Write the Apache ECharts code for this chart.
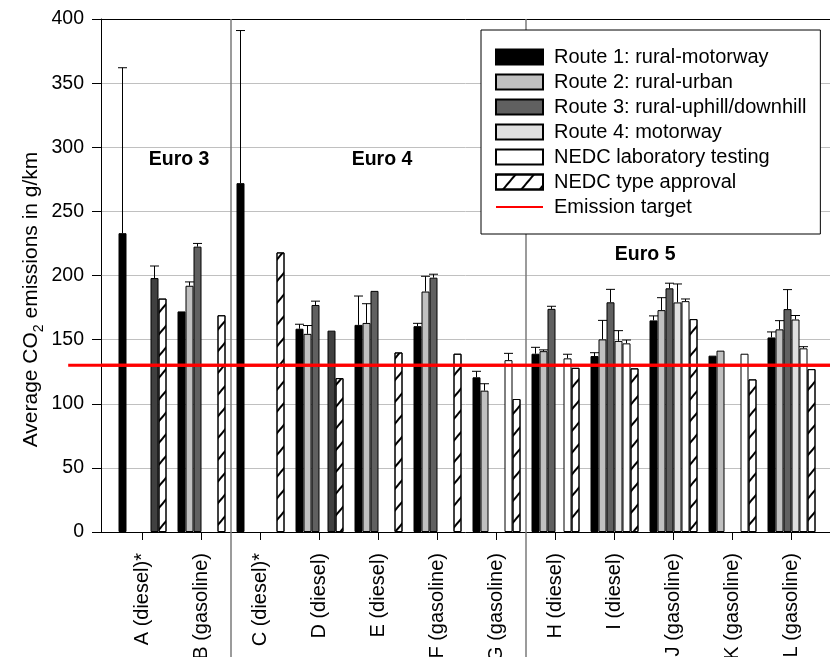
<!DOCTYPE html>
<html>
<head>
<meta charset="utf-8">
<script src="https://cdn.jsdelivr.net/npm/echarts@6/dist/echarts.min.js"></script>
<style>
html,body{margin:0;padding:0;background:#fff;}
#chart{width:830px;height:657px;}
</style>
</head>
<body>
<div id="chart"></div>
<script>
// ---------- data ----------
const categories = ['A (diesel)*','B (gasoline)','C (diesel)*','D (diesel)','E (diesel)','F (gasoline)','G (gasoline)','H (diesel)','I (diesel)','J (gasoline)','K (gasoline)','L (gasoline)'];
const seriesNames = ['Route 1: rural-motorway','Route 2: rural-urban','Route 3: rural-uphill/downhill','Route 4: motorway','NEDC laboratory testing','NEDC type approval'];
const targetName = 'Emission target';

const route1    = [233, 172, 272, 158.5, 161.5, 160.5, 120.6, 139, 137.2, 165, 137.5, 151.7];
const route1Err = [362, null, 391, 162, 184, 162.7, 125.3, 144, 139.8, 168.5, null, 156];
const route2    = [null, 192, null, 154.5, 163, 187.5, 110.2, 141, 150.2, 173, 141.4, 158];
const route2Err = [null, 195, null, 161, 178, 199.4, 115.6, 142, 165, 182.7, null, 164.8];
const route3    = [null, 222.5, null, 177, 188, 198.3, null, 174, 179.1, 190, null, 173.8];
const route3Err = [null, 225, null, 180, null, 201, null, 176, 189.2, 194, null, 189];
const route4    = [null, null, null, null, null, null, null, null, 149, 179, null, 165.7];
const route4Err = [null, null, null, null, null, null, null, null, 157, 193.4, null, 168.8];
const nedcLab    = [198, null, null, 157, null, null, 134, 135.4, 147.1, 180, 139, 143.2];
const nedcLabErr = [207.4, null, null, null, null, null, 139.3, 138.6, 149.7, 181.7, null, 144.5];
const nedcType   = [182, 169, 218, 120, 140, 139, 103.7, 128, 127.6, 166, 119, 127];
const darkLabBars = [0, 3];
const emissionTarget = 130;
const euroLabels = ['Euro 3', 'Euro 4', 'Euro 5'];
const groupDividers = [1, 6]; // divider after these category indexes
const yTicks = [0, 50, 100, 150, 200, 250, 300, 350, 400];

// ---------- chart ----------
const FONT = 'Liberation Sans, Arial, sans-serif';
const BAR_W = 8;
const values = [route1, route2, route3, route4, nedcLab, nedcType];
const errors = [route1Err, route2Err, route3Err, route4Err, nedcLabErr, null];
const colors = ['#000000', '#c0c0c0', '#606060', '#e0e0e0', '#ffffff', '#ffffff'];

const barSeries = values.map((arr, s) => ({
  type: 'bar',
  name: seriesNames[s],
  xAxisIndex: 2, yAxisIndex: 1,
  barWidth: BAR_W,
  barGap: '0%',
  z: 3,
  data: arr.map((v, i) => {
    if (v == null) return '-';
    if (s === 4 && darkLabBars.includes(i)) return { value: v, itemStyle: { color: '#404040' } };
    return v;
  }),
  itemStyle: Object.assign({
    color: colors[s], borderColor: '#000', borderWidth: 1, borderRadius: 0
  }, s === 5 ? {
    decal: { symbol: 'rect', symbolSize: 1, dashArrayX: [1, 0], dashArrayY: [1.2, 12], rotation: -0.87, color: '#000' }
  } : {}),
  emphasis: { disabled: true },
  silent: true
}));

const errData = [];
errors.forEach((arr, s) => {
  if (!arr) return;
  arr.forEach((e, i) => { if (e != null && values[s][i] != null) errData.push([i, values[s][i], e, s]); });
});

const option = {
  animation: false,
  backgroundColor: '#fff',
  textStyle: { fontFamily: FONT },
  grid: [
    { left: 101, right: 0, top: 19, bottom: 125, outerBoundsMode: 'none', containLabel: false },
    { left: 113, width: 708, top: 19, bottom: 125, outerBoundsMode: 'none', containLabel: false }
  ],
  legend: {
    data: seriesNames.map(n => ({ name: n, icon: 'rect' })).concat([{ name: targetName, itemStyle: { opacity: 0 } }]),
    orient: 'vertical',
    left: 481, top: 30,
    padding: [17, 14, 17, 14],
    itemWidth: 47, itemHeight: 15, itemGap: 5,
    backgroundColor: '#fff',
    borderColor: '#000', borderWidth: 1, borderRadius: 0,
    textStyle: { fontFamily: FONT, fontSize: 20, color: '#000', padding: [0, 0, 0, 6] },
    selectedMode: false,
    z: 20
  },
  xAxis: [
    { gridIndex: 0, type: 'value', min: 0, max: 1, position: 'bottom',
      axisLine: { show: true, lineStyle: { color: '#000', width: 1 } },
      axisTick: { show: false }, axisLabel: { show: false }, splitLine: { show: false } },
    { gridIndex: 0, type: 'value', min: 0, max: 1, position: 'top',
      axisLine: { show: true, lineStyle: { color: '#000', width: 1 } },
      axisTick: { show: false }, axisLabel: { show: false }, splitLine: { show: false } },
    { gridIndex: 1, type: 'category', data: categories, position: 'bottom',
      axisLine: { show: false },
      axisTick: { show: true, alignWithLabel: true, length: 8, lineStyle: { color: '#000' } },
      axisLabel: { rotate: 90, margin: 21, fontSize: 20, color: '#000', fontFamily: FONT, interval: 0, hideOverlap: false },
      splitLine: { show: false } }
  ],
  yAxis: [
    { gridIndex: 0, type: 'value', min: 0, max: 400, interval: 50,
      axisLine: { show: true, lineStyle: { color: '#000', width: 1 } },
      axisTick: { show: true, length: 9, lineStyle: { color: '#000' } },
      axisLabel: { margin: 17, fontSize: 19.5, color: '#000', fontFamily: FONT,
        formatter: v => yTicks.includes(v) ? String(v) : '' },
      splitLine: { show: true, lineStyle: { color: '#c0c0c0', width: 1 } },
      name: '{a|Average CO}{b|2}{a| emissions in g/km}',
      nameLocation: 'middle', nameRotate: 90, nameGap: 55, nameMoveOverlap: false,
      nameTextStyle: {
        color: '#000', fontFamily: FONT, fontSize: 21, padding: [0, 48, 0, 0],
        rich: {
          a: { fontSize: 21, fontFamily: FONT, color: '#000', lineHeight: 30 },
          b: { fontSize: 14, fontFamily: FONT, color: '#000', lineHeight: 14, verticalAlign: 'bottom' }
        }
      }
    },
    { gridIndex: 1, type: 'value', min: 0, max: 400, show: false }
  ],
  series: barSeries.concat([
    {
      type: 'custom', name: 'errorbars', xAxisIndex: 2, yAxisIndex: 1, z: 4, silent: true,
      encode: { x: 0, y: [1, 2] },
      data: errData,
      renderItem: (params, api) => {
        const i = api.value(0), s = api.value(3);
        const base = api.coord([i, api.value(1)]);
        const top = api.coord([i, api.value(2)]);
        const x = base[0] + (s - 2.5) * BAR_W;
        const st = { stroke: '#000', lineWidth: 1 };
        return { type: 'group', children: [
          { type: 'line', shape: { x1: x, y1: base[1], x2: x, y2: top[1] }, style: st },
          { type: 'line', shape: { x1: x - 4.5, y1: top[1], x2: x + 4.5, y2: top[1] }, style: st }
        ] };
      }
    },
    {
      type: 'custom', name: 'dividers', xAxisIndex: 2, yAxisIndex: 1, z: 2, silent: true, clip: false,
      encode: { x: 0 },
      data: groupDividers.map(d => [d]),
      renderItem: (params, api) => {
        const i = api.value(0);
        const a = api.coord([i, 400]);
        const b = api.coord([i + 1, 400]);
        const x = (a[0] + b[0]) / 2;
        return { type: 'line', shape: { x1: x, y1: a[1], x2: x, y2: api.getHeight() },
          style: { stroke: '#7a7a7a', lineWidth: 1.5 } };
      }
    },
    {
      type: 'custom', name: 'euro', xAxisIndex: 2, yAxisIndex: 1, z: 5, silent: true, clip: false,
      encode: { x: 0, y: 2 },
      data: [[0, 0.62, 290, 0], [4, 0.06, 290, 1], [8, 0.52, 216, 2]],
      renderItem: (params, api) => {
        const i = api.value(0);
        const p = api.coord([i, api.value(2)]);
        const band = api.size([1, 0])[0];
        return { type: 'text', x: p[0] + api.value(1) * band, y: p[1],
          style: { text: euroLabels[api.value(3)], fill: '#000', font: 'bold 19.5px ' + FONT,
            align: 'center', verticalAlign: 'middle' } };
      }
    },
    {
      type: 'line', name: targetName, xAxisIndex: 0, yAxisIndex: 0, z: 6, silent: true,
      clip: false, symbol: 'none',
      data: [[0, emissionTarget], [1, emissionTarget]],
      lineStyle: { color: '#ff0000', width: 3 },
      itemStyle: { color: '#ff0000' }
    },
    {
      type: 'custom', name: 'targetExtension', xAxisIndex: 0, yAxisIndex: 0, z: 6, silent: true, clip: false,
      encode: { x: 0, y: 1 },
      data: [[-0.045, emissionTarget, 1]],
      renderItem: (params, api) => {
        const a = api.coord([api.value(0), api.value(1)]);
        const b = api.coord([api.value(2), api.value(1)]);
        return { type: 'line', shape: { x1: a[0], y1: a[1], x2: b[0], y2: b[1] },
          style: { stroke: '#ff0000', lineWidth: 3 } };
      }
    }
  ])
};

const chart = echarts.init(document.getElementById('chart'), null, { renderer: 'canvas' });
chart.setOption(option);
</script>
</body>
</html>
